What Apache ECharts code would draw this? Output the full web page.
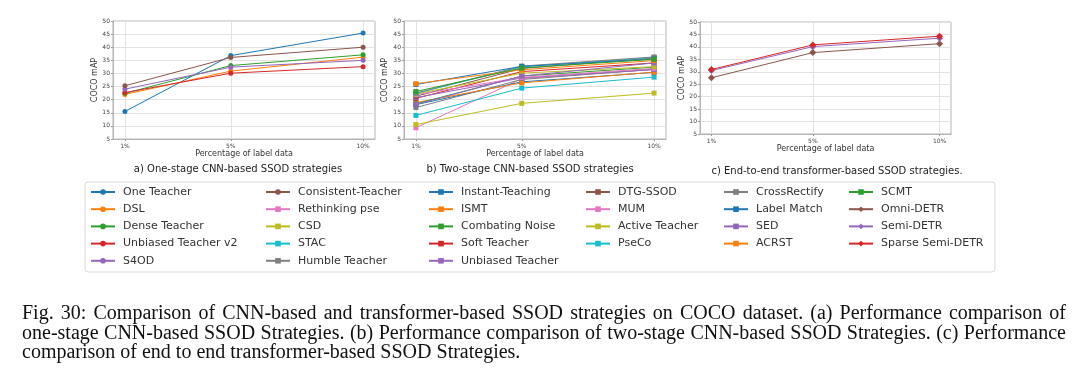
<!DOCTYPE html>
<html><head><meta charset="utf-8">
<script src="https://cdn.jsdelivr.net/npm/echarts@6/dist/echarts.min.js"></script>
<style>
html,body{margin:0;padding:0;background:#fff;width:1080px;height:383px;overflow:hidden}
#chart{position:absolute;left:0;top:0;width:1080px;height:383px}
#caption{position:absolute;left:22px;top:303px;width:1044px;font-family:"Liberation Serif","DejaVu Serif",serif;font-size:20px;line-height:19.7px;color:#111}
.ln{text-align:justify;text-align-last:justify}
.ln.last{text-align-last:left}
</style></head>
<body>
<div id="chart"></div>
<div id="caption">
<div class="ln">Fig. 30: Comparison of CNN-based and transformer-based SSOD strategies on COCO dataset. (a) Performance comparison of</div>
<div class="ln">one-stage CNN-based SSOD Strategies. (b) Performance comparison of two-stage CNN-based SSOD Strategies. (c) Performance</div>
<div class="ln last">comparison of end to end transformer-based SSOD Strategies.</div>
</div>
<script>
// ---- data ----
const pct = [1, 5, 10];
const pctLabels = ['1%', '5%', '10%'];
const xName = 'Percentage of label data';
const yName = 'COCO mAP';
const panelTitles = ['a) One-stage CNN-based SSOD strategies', 'b) Two-stage CNN-based SSOD strategies', 'c) End-to-end transformer-based SSOD strategies.'];

// panel a: one-stage (circle markers)
const oneStageNames = ['One Teacher', 'DSL', 'Dense Teacher', 'Unbiased Teacher v2', 'S4OD', 'Consistent-Teacher'];
const oneTeacher = [15.5, 36.8, 45.4];
const dsl = [22.0, 30.9, 36.2];
const denseTeacher = [22.4, 33.0, 37.1];
const unbiasedV2 = [22.7, 30.1, 32.6];
const s4od = [24.0, 32.4, 35.0];
const consistentTeacher = [25.3, 36.1, 40.0];
const oneStageVals = [oneTeacher, dsl, denseTeacher, unbiasedV2, s4od, consistentTeacher];

// panel b: two-stage (square markers)
const twoStageNames = ['Rethinking pse', 'CSD', 'STAC', 'Humble Teacher', 'Instant-Teaching', 'ISMT', 'Combating Noise', 'Soft Teacher', 'Unbiased Teacher', 'DTG-SSOD', 'MUM', 'Active Teacher', 'PseCo', 'CrossRectify', 'Label Match', 'SED', 'ACRST', 'SCMT'];
const rethinkingPse = [9.3, 28.0, 31.5];
const csd = [10.5, 18.6, 22.5];
const stac = [14.0, 24.4, 28.6];
const humbleTeacher = [17.0, 27.7, 31.6];
const instantTeaching = [18.1, 26.8, 30.4];
const ismt = [18.9, 26.4, 30.5];
const combatingNoise = [18.4, 29.0, 32.4];
const softTeacher = [20.5, 30.7, 34.0];
const unbiasedTeacher = [20.8, 28.3, 31.5];
const dtgSsod = [21.3, 31.9, 35.9];
const mum = [21.9, 28.5, 31.9];
const activeTeacher = [22.2, 30.1, 32.6];
const pseco = [22.4, 32.5, 36.1];
const crossRectify = [22.5, 32.8, 36.3];
const labelMatch = [25.8, 32.7, 35.5];
const sed = [18.2, 29.0, 34.0];
const acrst = [26.1, 31.4, 34.9];
const scmt = [23.1, 32.1, 35.4];
const twoStageVals = [rethinkingPse, csd, stac, humbleTeacher, instantTeaching, ismt, combatingNoise, softTeacher, unbiasedTeacher, dtgSsod, mum, activeTeacher, pseco, crossRectify, labelMatch, sed, acrst, scmt];

// panel c: end-to-end (diamond markers)
const e2eNames = ['Omni-DETR', 'Semi-DETR', 'Sparse Semi-DETR'];
const omniDetr = [27.6, 37.7, 41.3];
const semiDetr = [30.5, 40.1, 43.5];
const sparseSemiDetr = [30.9, 40.8, 44.3];
const e2eVals = [omniDetr, semiDetr, sparseSemiDetr];

// legend columns
const legendCols = [
  ['One Teacher', 'DSL', 'Dense Teacher', 'Unbiased Teacher v2', 'S4OD'],
  ['Consistent-Teacher', 'Rethinking pse', 'CSD', 'STAC', 'Humble Teacher'],
  ['Instant-Teaching', 'ISMT', 'Combating Noise', 'Soft Teacher', 'Unbiased Teacher'],
  ['DTG-SSOD', 'MUM', 'Active Teacher', 'PseCo'],
  ['CrossRectify', 'Label Match', 'SED', 'ACRST'],
  ['SCMT', 'Omni-DETR', 'Semi-DETR', 'Sparse Semi-DETR']
];

// ---- styles ----
const C = {blue:'#1f77b4', orange:'#ff7f0e', green:'#2ca02c', red:'#d62728', purple:'#9467bd', brown:'#8c564b', pink:'#e377c2', gray:'#7f7f7f', olive:'#bcbd22', cyan:'#17becf'};
const oneStageColors = [C.blue, C.orange, C.green, C.red, C.purple, C.brown];
const twoStageColors = [C.pink, C.olive, C.cyan, C.gray, C.blue, C.orange, C.green, C.red, C.purple, C.brown, C.pink, C.olive, C.cyan, C.gray, C.blue, C.purple, C.orange, C.green];
const e2eColors = [C.brown, C.purple, C.red];

const FONT = 'DejaVu Sans';
const grids = [
  {left: 113, top: 21, width: 262, height: 118},
  {left: 404, top: 21, width: 262, height: 118},
  {left: 700, top: 22, width: 251, height: 112}
];
const xNameGap = [11, 11, 10];
const yNameGap = [14, 15, 13];
const legendLefts = [90, 265, 428, 585, 723, 848];
const titlePos = [[238, 169], [530, 169], [837, 171]];

function makeSeries(names, vals, colors, symbol, size, gi) {
  return names.map((n, i) => ({
    name: n, type: 'line', xAxisIndex: gi, yAxisIndex: gi,
    data: vals[i].map((v, k) => [pct[k], v]),
    symbol: symbol, symbolSize: size, showSymbol: true,
    lineStyle: {width: 1, color: colors[i]},
    itemStyle: {color: colors[i]},
    emphasis: {disabled: true}, silent: true, animation: false
  }));
}

const series = [].concat(
  makeSeries(oneStageNames, oneStageVals, oneStageColors, 'circle', 5, 0),
  makeSeries(twoStageNames, twoStageVals, twoStageColors, 'rect', 5, 1),
  makeSeries(e2eNames, e2eVals, e2eColors, 'diamond', 7, 2)
);

const axisLineStyle = {color: '#b5b5b5', width: 1};
const option = {
  animation: false,
  backgroundColor: '#fff',
  grid: grids.map(g => Object.assign({show: true, borderColor: '#b5b5b5', borderWidth: 1, backgroundColor: 'transparent', containLabel: false, outerBoundsMode: 'none'}, g)),
  xAxis: grids.map((g, i) => ({
    gridIndex: i, type: 'value', min: 0.55, max: 10.45,
    name: xName, nameLocation: 'middle', nameGap: xNameGap[i],
    nameTextStyle: {fontSize: 8, color: '#333', fontFamily: FONT},
    axisLine: {show: true, lineStyle: axisLineStyle},
    axisTick: {show: true, length: 2, customValues: pct, lineStyle: {color: '#999'}},
    axisLabel: {customValues: pct, formatter: v => pctLabels[pct.indexOf(v)], fontSize: 6, margin: 4, color: '#444', fontFamily: FONT},
    splitLine: {show: true, lineStyle: {color: '#e2e2e2', width: 1}}
  })),
  yAxis: grids.map((g, i) => ({
    gridIndex: i, type: 'value', min: 5, max: 50, interval: 5,
    name: yName, nameLocation: 'middle', nameGap: yNameGap[i],
    nameTextStyle: {fontSize: 8, color: '#333', fontFamily: FONT},
    axisLine: {show: true, lineStyle: axisLineStyle},
    axisTick: {show: true, length: 2, lineStyle: {color: '#999'}},
    axisLabel: {fontSize: 6, margin: 3, color: '#444', fontFamily: FONT},
    splitLine: {show: true, lineStyle: {color: '#e2e2e2', width: 1}}
  })),
  legend: legendCols.map((col, i) => ({
    orient: 'vertical', left: legendLefts[i], top: 186, padding: 0,
    itemWidth: 24, itemHeight: 7, itemGap: 5.2, selectedMode: false,
    data: col,
    textStyle: {fontSize: 11, lineHeight: 12, color: '#333', fontFamily: FONT, padding: [0, 0, 0, 3]}
  })),
  graphic: [
    {type: 'rect', shape: {x: 85, y: 182, width: 910, height: 90, r: 3}, style: {fill: 'none', stroke: '#d9d9d9', lineWidth: 1}, silent: true}
  ].concat(panelTitles.map((t, i) => ({
    type: 'text', x: titlePos[i][0], y: titlePos[i][1], silent: true,
    style: {text: t, fontSize: 10, fontFamily: FONT, fill: '#222', textAlign: 'center', textVerticalAlign: 'middle'}
  }))),
  series: series
};
const chart = echarts.init(document.getElementById('chart'));
chart.setOption(option);
</script>
</body></html>
